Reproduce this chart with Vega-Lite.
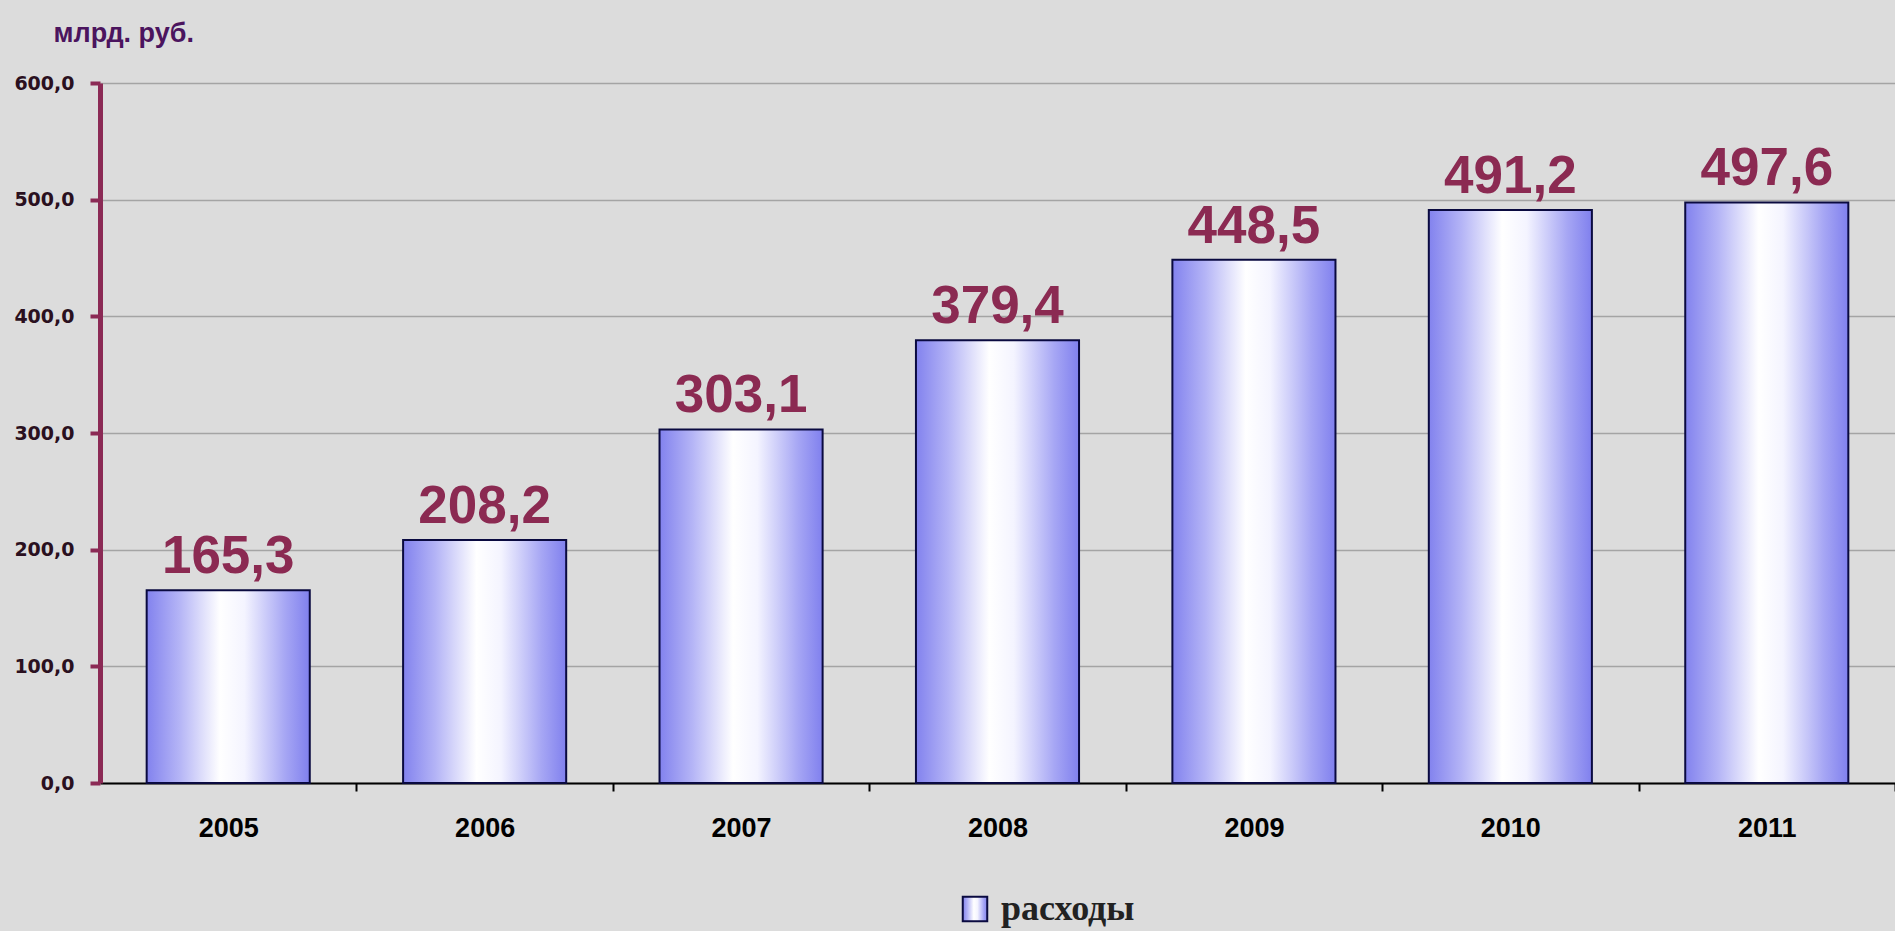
{
  "$schema": "https://vega.github.io/schema/vega-lite/v6.json",
  "width": 1795,
  "height": 700,
  "autosize": {"type": "none"},
  "padding": {"left": 100, "top": 83, "right": 0, "bottom": 148},
  "background": "#dcdcdc",
  "config": {
    "locale": {"number": {"decimal": ",", "thousands": " ", "grouping": [3], "currency": ["", ""]}},
    "view": {"stroke": null},
    "font": "Liberation Sans"
  },
  "data": {
    "values": [
      {"year": "2005", "value": 165.3, "series": "расходы"},
      {"year": "2006", "value": 208.2, "series": "расходы"},
      {"year": "2007", "value": 303.1, "series": "расходы"},
      {"year": "2008", "value": 379.4, "series": "расходы"},
      {"year": "2009", "value": 448.5, "series": "расходы"},
      {"year": "2010", "value": 491.2, "series": "расходы"},
      {"year": "2011", "value": 497.6, "series": "расходы"}
    ]
  },
  "encoding": {
    "x": {
      "field": "year",
      "type": "ordinal",
      "scale": {"paddingInner": 0.364, "paddingOuter": 0.182},
      "axis": {
        "title": null,
        "labelAngle": 0,
        "domainColor": "#000000",
        "domainWidth": 2,
        "tickColor": "#000000",
        "tickWidth": 2,
        "tickSize": 8,
        "tickOffset": 128.2,
        "labelOffset": -128.2,
        "labelPadding": 24,
        "labelFont": "Liberation Sans",
        "labelFontWeight": "bold",
        "labelFontSize": 27,
        "labelColor": "#000000",
        "labelBaseline": "top"
      }
    },
    "y": {
      "field": "value",
      "type": "quantitative",
      "scale": {"domain": [0, 600], "nice": false},
      "axis": {
        "values": [0, 100, 200, 300, 400, 500, 600],
        "format": ".1f",
        "title": "млрд. руб.",
        "titleAngle": 0,
        "titleAlign": "left",
        "titleBaseline": "alphabetic",
        "titleX": -47,
        "titleY": -42,
        "titleFont": "Liberation Sans",
        "titleFontSize": 27,
        "titleFontWeight": "bold",
        "titleColor": "#4b145e",
        "domainColor": "#8b2a55",
        "domainWidth": 5,
        "tickColor": "#8b2a55",
        "tickWidth": 4,
        "tickSize": 10,
        "labelPadding": 16,
        "labelFont": "DejaVu Sans",
        "labelFontWeight": "bold",
        "labelFontSize": 19,
        "labelColor": "#2a1020",
        "grid": true,
        "gridColor": "#a4a4a4",
        "gridWidth": 1.5
      }
    }
  },
  "layer": [
    {
      "mark": {
        "type": "bar",
        "strokeWidth": 2,
        "fill": {
          "gradient": "linear",
          "x1": 0, "y1": 0, "x2": 1, "y2": 0,
          "stops": [
            {"offset": 0, "color": "#8282ee"},
            {"offset": 0.2, "color": "#b4b4f6"},
            {"offset": 0.45, "color": "#ffffff"},
            {"offset": 0.6, "color": "#f4f4ff"},
            {"offset": 0.85, "color": "#a6a6f4"},
            {"offset": 1, "color": "#8080ee"}
          ]
        }
      },
      "encoding": {
        "stroke": {
          "field": "series",
          "type": "nominal",
          "scale": {"range": ["#0a0a40"]},
          "legend": {
            "orient": "none",
            "legendX": 857,
            "legendY": 808,
            "title": null,
            "symbolType": "square",
            "symbolSize": 600,
            "symbolStrokeWidth": 2,
            "labelFont": "Liberation Serif",
            "labelFontSize": 36,
            "labelFontWeight": "bold",
            "labelColor": "#222222",
            "labelOffset": 8,
            "encode": {
              "symbols": {
                "update": {
                  "fill": {
                    "value": {
                      "gradient": "linear",
                      "x1": 0, "y1": 0, "x2": 1, "y2": 0,
                      "stops": [
                        {"offset": 0, "color": "#8282ee"},
                        {"offset": 0.45, "color": "#ffffff"},
                        {"offset": 1, "color": "#8080ee"}
                      ]
                    }
                  }
                }
              }
            }
          }
        }
      }
    },
    {
      "mark": {
        "type": "text",
        "dy": -17,
        "baseline": "alphabetic",
        "font": "Liberation Sans",
        "fontWeight": "bold",
        "fontSize": 53,
        "color": "#8b2a52"
      },
      "encoding": {
        "text": {"field": "value", "type": "quantitative", "format": ".1f"}
      }
    }
  ]
}
